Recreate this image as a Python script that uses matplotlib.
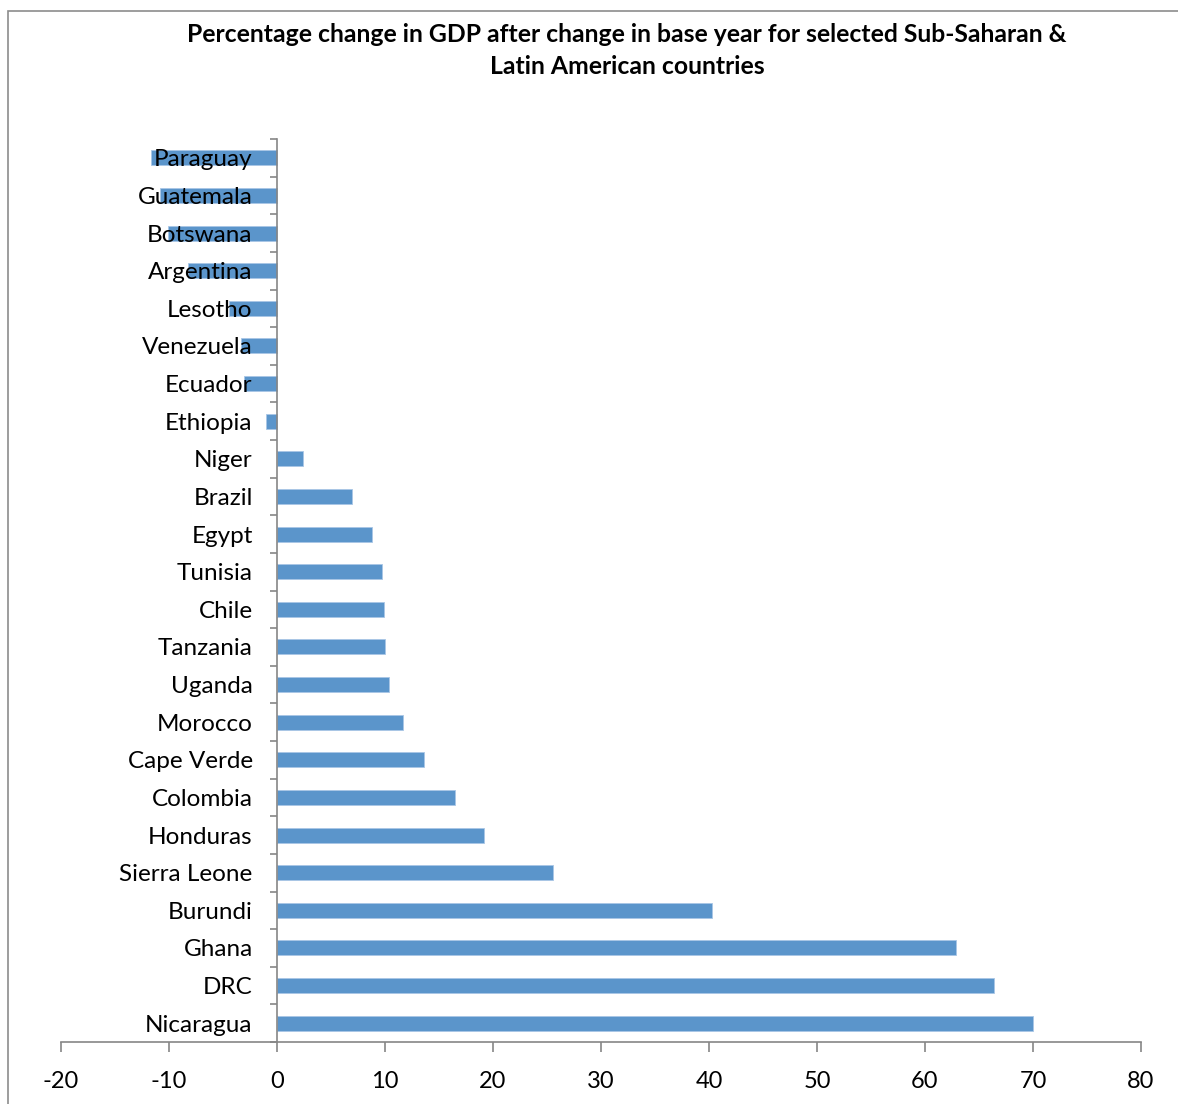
import matplotlib.pyplot as plt
from matplotlib.patches import Rectangle
import numpy as np

countries = ['Paraguay', 'Guatemala', 'Botswana', 'Argentina', 'Lesotho',
             'Venezuela', 'Ecuador', 'Ethiopia', 'Niger', 'Brazil', 'Egypt',
             'Tunisia', 'Chile', 'Tanzania', 'Uganda', 'Morocco', 'Cape Verde',
             'Colombia', 'Honduras', 'Sierra Leone', 'Burundi', 'Ghana', 'DRC',
             'Nicaragua']
pct_change = [-11.7, -10.8, -10.1, -8.2, -4.4, -3.3, -3.1, -1.0, 2.4, 6.9, 8.8,
              9.7, 9.9, 10.0, 10.4, 11.7, 13.6, 16.5, 19.2, 25.6, 40.3, 62.9,
              66.4, 70.0]
xticks = [-20, -10, 0, 10, 20, 30, 40, 50, 60, 70, 80]

plt.rcParams['font.family'] = ['Lato', 'DejaVu Sans']

fig = plt.figure(figsize=(11.78, 11.04), dpi=100)
W, H = 1178, 1104

# chart frame
fig.patches.append(Rectangle((8 / W, -0.1), 1.2, 1.1 - 11 / H,
                             transform=fig.transFigure, fill=False,
                             edgecolor='#8c8c8c', linewidth=1.2))

ax = fig.add_axes([61 / W, 1 - 1042 / H, 1080 / W, (1042 - 139) / H])
ax.set_axisbelow(False)

y = np.arange(len(countries))[::-1]
ax.barh(y, pct_change, height=0.4, color='#5b95cb', edgecolor='#a9c6e6',
        linewidth=0.6, zorder=1)

ax.set_xlim(-20, 80)
ax.set_ylim(-0.5, len(countries) - 0.5)
ax.set_xticks(xticks)
ax.set_xticklabels([str(t) for t in xticks])

# category labels sit at the centres, tick marks at the boundaries
ax.set_yticks(y)
ax.set_yticklabels(countries)
ax.set_yticks(np.arange(len(countries) + 1) - 0.5, minor=True)
ax.tick_params(axis='y', which='major', length=0, pad=17.5, labelsize=17.5)
ax.tick_params(axis='y', which='minor', length=5, width=1.2, color='#868686',
               direction='out')
ax.tick_params(axis='x', length=7, width=1.2, color='#868686',
               direction='out', pad=14, labelsize=17)
for lbl in ax.get_yticklabels():
    lbl.set_va('center_baseline')

for s in ['top', 'right']:
    ax.spines[s].set_visible(False)
ax.spines['left'].set_position(('data', 0))
for s in ['left', 'bottom']:
    ax.spines[s].set_color('#868686')
    ax.spines[s].set_linewidth(1.2)

fig.text(627 / W, 1 - 35 / H,
         'Percentage change in GDP after change in base year for selected Sub-Saharan &',
         ha='center', va='center', fontsize=17.8, fontweight='bold')
fig.text(627 / W, 1 - 67 / H, 'Latin American countries',
         ha='center', va='center', fontsize=17.8, fontweight='bold')

fig.savefig('out.png', dpi=100)
